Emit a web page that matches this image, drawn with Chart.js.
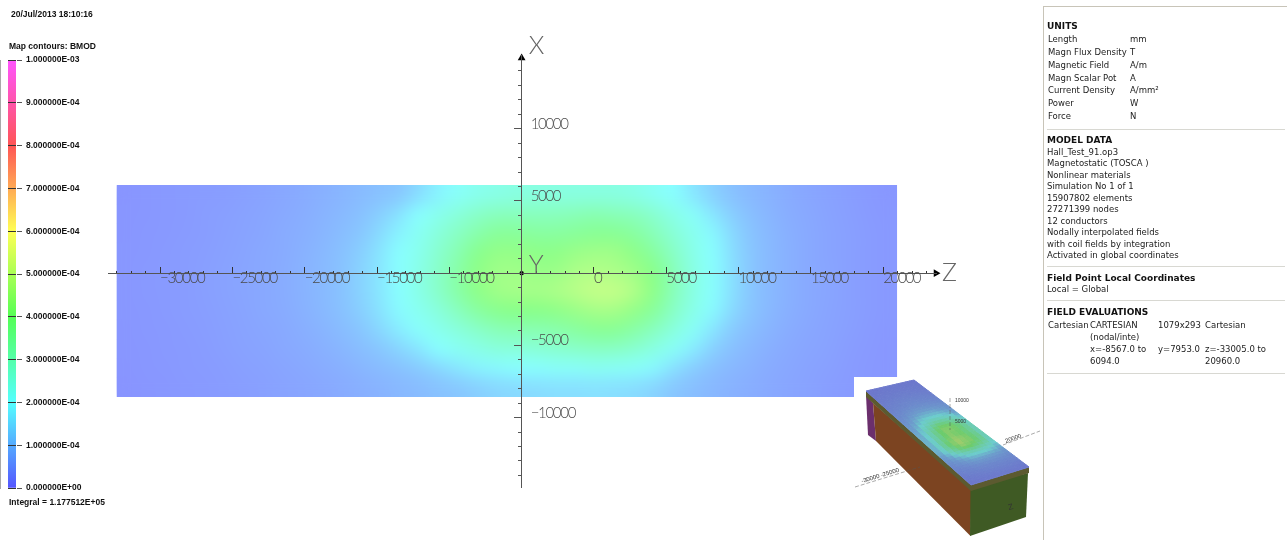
<!DOCTYPE html>
<html>
<head>
<meta charset="utf-8">
<title>BMOD map contours</title>
<script src="https://cdn.jsdelivr.net/npm/chart.js@4/dist/chart.umd.min.js"></script>
<style>
  html, body { margin: 0; padding: 0; background: #fff; overflow: hidden; }
  canvas { position: absolute; }
  #mainChart { left: 0; top: 0; }
  #barChart { left: 0; top: 50px; }
  #insetChart { left: 854px; top: 377px; background: #fff; }
  .note { position: absolute; font: bold 8.5px "Liberation Sans", sans-serif; color: #111; white-space: nowrap; }
  #panel { position: absolute; left: 1043px; top: 6px; width: 244px; height: 534px; border-left: 1px solid #c8c4b8; border-top: 1px solid #c8c4b8; box-sizing: border-box; }
  #panel div { position: absolute; font: 8.5px/12px "DejaVu Sans", sans-serif; color: #222; white-space: nowrap; }
  #panel div.b { font: bold 9px/12px "DejaVu Sans", sans-serif; color: #111; }
  #panel hr { position: absolute; left: 3px; width: 238px; margin: 0; border: 0; border-top: 1px solid #d8d8d2; }
</style>
</head>
<body>
<canvas id="mainChart" width="1287" height="540"></canvas>
<canvas id="barChart" width="115" height="450"></canvas>
<canvas id="insetChart" width="188" height="163"></canvas>

<div class="note" style="left:11px;top:9px">20/Jul/2013 18:10:16</div>
<div class="note" style="left:9px;top:41px">Map contours: BMOD</div>
<div class="note" style="left:9px;top:497px">Integral = 1.177512E+05</div>

<div id="panel"></div>

<script>
// field grid (mm)
const zCenters = [-32330, -30981, -29632, -28283, -26934, -25585, -24236, -22887, -21538, -20188,
    -18839, -17490, -16141, -14792, -13443, -12094, -10745, -9396, -8047, -6698,
    -5349, -4000, -2651, -1302, 47, 1396, 2746, 4095, 5444, 6793,
    8142, 9491, 10840, 12189, 13538, 14887, 16236, 17585, 18934, 20285];
const xCenters = [5428, 4095, 2762, 1429, 96, -1237, -2570, -3903, -5235, -6568, -7901];

// BMOD, in units of 1E-05 T, one row per xCenters entry
const bmodRow0 = [2.2,2.5,2.8,3,3.3,3.6,4.1,4.6,5.2,5.9,6.8,7.6,8.5,9.5,10.6,14.2,18,21,23,24,25,25,25,25,25,25,24,22,20,16,12.4,9.8,8.2,7,5.9,5.1,4.4,3.7,3.1,2.6];
const bmodRow1 = [2.4,2.6,2.9,3.1,3.5,3.9,4.4,4.9,5.5,6.2,7.2,8.2,9.5,11.9,15.3,20,23,26,29,31,31,31,31,32,33,32,31,28,24,21,16,12,9.3,7.6,6.3,5.3,4.6,3.8,3.2,2.7];
const bmodRow2 = [2.4,2.7,2.9,3.2,3.6,4.1,4.6,5.1,5.8,6.6,7.6,8.9,10.6,14,18,22,26,30,34,37,37,36,36,37,38,38,36,32,27,23,19,13.8,10,8,6.6,5.5,4.7,4,3.3,2.8];
const bmodRow3 = [2.5,2.7,3,3.3,3.7,4.2,4.7,5.3,5.9,6.9,8,9.5,12,15.6,20,23,28,33,39,42,42,41,41,43,44,44,41,36,30,24,20,14.6,10.4,8.2,6.7,5.6,4.7,4,3.4,2.8];
const bmodRow4 = [2.5,2.8,3,3.4,3.8,4.3,4.8,5.4,6.1,7,8.2,9.8,12.6,16,20,24,29,35,41,44,44,43,43,46,47,46,44,40,32,25,20.3,14.9,10.5,8.3,6.8,5.6,4.8,4.1,3.4,2.9];
const bmodRow5 = [2.5,2.8,3,3.4,3.8,4.3,4.8,5.4,6.1,7,8.2,9.8,12.6,16,20,24,29,35,41,44,45,45,46,48,50,50,47,41,32,25,20.3,14.9,10.5,8.3,6.8,5.6,4.8,4.1,3.4,2.9];
const bmodRow6 = [2.5,2.7,3,3.3,3.7,4.2,4.7,5.3,5.9,6.9,8,9.5,11.9,15.3,19.4,22.5,26,31,36,39,40,40,41,43,45,45,42,37,30,24,19.4,14,10.2,8.1,6.6,5.5,4.7,4,3.4,2.8];
const bmodRow7 = [2.4,2.7,2.9,3.2,3.6,4,4.5,5,5.6,6.4,7.4,8.7,10.4,13.5,17,20.5,23,26,29,32,33,33,34,36,38,38,35,31,26,21.5,16,11.5,9,7.4,6.1,5.2,4.5,3.8,3.2,2.7];
const bmodRow8 = [2.3,2.6,2.8,3.1,3.4,3.8,4.3,4.7,5.3,5.9,6.8,7.8,9.1,10.6,13.1,16,20,22,24,26,26,27,28,29,30,30,28,25,21.5,17,12.4,9.5,7.9,6.6,5.6,4.9,4.3,3.6,3.1,2.6];
const bmodRow9 = [2.2,2.5,2.7,3,3.2,3.6,4,4.4,4.9,5.4,6,6.8,7.7,8.7,9.8,11.3,13.5,16,18,19,20,20,21,21,22,21.5,21,19,15.1,11.7,9.5,8.1,7,5.9,5.2,4.6,4,3.4,2.9,2.5];
const bmodRow10 = [2.1,2.4,2.6,2.8,3.1,3.4,3.7,4.1,4.5,4.9,5.4,5.9,6.6,7.2,8,8.8,9.7,10.6,12,13.1,13.8,14.2,14.6,14.7,14.9,14.7,14.2,12.8,10.6,9.2,8,7,6.2,5.5,4.9,4.3,3.7,3.2,2.8,2.4];
const bmodRows = [bmodRow0, bmodRow1, bmodRow2, bmodRow3, bmodRow4, bmodRow5, bmodRow6, bmodRow7, bmodRow8, bmodRow9, bmodRow10];

// field extent and axis ticks (mm)
const zExtent = [-33005, 20960];
const xExtent = [-8567, 6094];
const zLabels = [-30000, -25000, -20000, -15000, -10000, 0, 5000, 10000, 15000, 20000];
const xLabels = [10000, 5000, -5000, -10000];
const zTicks = [-33000, -32000, -31000, -30000, -29000, -28000, -27000, -26000, -25000, -24000, -23000, -22000, -21000, -20000,
    -19000, -18000, -17000, -16000, -15000, -14000, -13000, -12000, -11000, -10000, -9000, -8000, -7000, -6000, -5000,
    -4000, -3000, -2000, -1000, 0, 1000, 2000, 3000, 4000, 5000, 6000, 7000, 8000, 9000, 10000,
    11000, 12000, 13000, 14000, 15000, 16000, 17000, 18000, 19000, 20000, 21000, 22000, 23000];
const xTicks = [14000, 13000, 12000, 11000, 10000, 9000, 8000, 7000, 6000, 5000, 4000, 3000, 2000, 1000, 0,
    -1000, -2000, -3000, -4000, -5000, -6000, -7000, -8000, -9000, -10000, -11000, -12000, -13000, -14000];

// colour bar
const barValues = [1e-3];
const barTicks = [0, 1e-4, 2e-4, 3e-4, 4e-4, 5e-4, 6e-4, 7e-4, 8e-4, 9e-4, 1e-3];
const barTickLabels = ['0.000000E+00', '1.000000E-04', '2.000000E-04', '3.000000E-04', '4.000000E-04', '5.000000E-04',
    '6.000000E-04', '7.000000E-04', '8.000000E-04', '9.000000E-04', '1.000000E-03'];
const barColors = [[85, 85, 255], [85, 170, 255], [85, 255, 255], [85, 255, 170], [85, 255, 85], [170, 255, 85],
    [255, 255, 85], [255, 170, 85], [255, 85, 85], [255, 85, 170], [255, 85, 255]];

// small 3D view, in view units
const topFaceX = [12, 60, 175, 117];
const topFaceY = [14, 3, 90, 108];
const rimFaceX = [12, 117, 175, 175, 117, 12];
const rimFaceY = [14, 108, 90, 96, 114, 20];
const sideFaceX = [19, 117.5, 116.5, 22];
const sideFaceY = [26, 112, 159, 64];
const endFaceX = [116.5, 174, 172, 116];
const endFaceY = [111, 96, 140, 159];
const backFaceX = [12, 19, 22, 14];
const backFaceY = [18, 26, 64, 58];
const insetAxisA = [[1, 110], [66, 90]];
const insetAxisB = [[149, 68], [186, 54]];
const insetAxisC = [[96, 21], [96, 53]];
const insetNotes = ['-30000 -25000', '20000', '10000', '5000', 'Z'];

// panel text
const panelLines = [
    ['b', 3, 13, 'UNITS'],
    ['', 4, 26, 'Length'], ['', 86, 26, 'mm'],
    ['', 4, 39, 'Magn Flux Density'], ['', 86, 39, 'T'],
    ['', 4, 52, 'Magnetic Field'], ['', 86, 52, 'A/m'],
    ['', 4, 65, 'Magn Scalar Pot'], ['', 86, 65, 'A'],
    ['', 4, 77, 'Current Density'], ['', 86, 77, 'A/mm²'],
    ['', 4, 90, 'Power'], ['', 86, 90, 'W'],
    ['', 4, 103, 'Force'], ['', 86, 103, 'N'],
    ['b', 3, 127, 'MODEL DATA'],
    ['', 3, 139, 'Hall_Test_91.op3'],
    ['', 3, 150, 'Magnetostatic (TOSCA )'],
    ['', 3, 162, 'Nonlinear materials'],
    ['', 3, 173, 'Simulation No 1 of 1'],
    ['', 3, 185, '15907802 elements'],
    ['', 3, 196, '27271399 nodes'],
    ['', 3, 208, '12 conductors'],
    ['', 3, 219, 'Nodally interpolated fields'],
    ['', 3, 231, 'with coil fields by integration'],
    ['', 3, 242, 'Activated in global coordinates'],
    ['b', 3, 265, 'Field Point Local Coordinates'],
    ['', 3, 276, 'Local = Global'],
    ['b', 3, 299, 'FIELD EVALUATIONS'],
    ['', 4, 312, 'Cartesian'], ['', 46, 312, 'CARTESIAN'], ['', 114, 312, '1079x293'], ['', 161, 312, 'Cartesian'],
    ['', 46, 324, '(nodal/inte)'],
    ['', 46, 336, 'x=-8567.0 to'], ['', 114, 336, 'y=7953.0'], ['', 161, 336, 'z=-33005.0 to'],
    ['', 46, 348, '6094.0'], ['', 161, 348, '20960.0']
];
const panelRules = [122, 259, 293, 366];

const LABEL_COLOR = '#4a4a4a';
const labelFont = '300 15px Lato, sans-serif';

// lifted version of the bar colours, as shown on the map
function fieldColor(value, scale = 1) {
    const pos = Math.min(Math.max(value / 10, 0), 10);
    const i = Math.min(Math.floor(pos), 9);
    const t = pos - i;
    const rgb = barColors[i].map((c, k) => {
        const mixed = c + (barColors[i + 1][k] - c) * t;
        return Math.round((136 + (mixed - 85) * 119 / 170) * scale);
    });
    return `rgb(${rgb[0]},${rgb[1]},${rgb[2]})`;
}

// map cells: one square point per value
const heatPoints = [];
const heatColors = [];
bmodRows.forEach((row, r) => {
    row.forEach((v, c) => {
        heatPoints.push({ x: zCenters[c], y: xCenters[r] });
        heatColors.push(fieldColor(v));
    });
});

// library draws the cells, then this smooths them inside the map rectangle
const smoothField = {
    id: 'smoothField',
    afterDatasetDraw(chart, args) {
        if (args.index !== 1) return;
        const { x, y } = chart.scales;
        const left = x.getPixelForValue(zExtent[0]);
        const right = x.getPixelForValue(zExtent[1]);
        const top = y.getPixelForValue(xExtent[1]);
        const bottom = y.getPixelForValue(xExtent[0]);
        const small = document.createElement('canvas');
        small.width = zCenters.length;
        small.height = xCenters.length;
        const sctx = small.getContext('2d');
        sctx.imageSmoothingEnabled = false;
        sctx.drawImage(chart.canvas, left, top, right - left, bottom - top, 0, 0, small.width, small.height);
        const ctx = chart.ctx;
        ctx.save();
        ctx.fillStyle = '#fff';
        ctx.fillRect(left - 2, top - 2, right - left + 4, 2);
        ctx.fillRect(left - 2, bottom, right - left + 4, 2);
        ctx.fillRect(left - 2, top - 2, 2, bottom - top + 4);
        ctx.fillRect(right, top - 2, 2, bottom - top + 4);
        ctx.imageSmoothingEnabled = true;
        ctx.imageSmoothingQuality = 'high';
        ctx.drawImage(small, left, top, right - left, bottom - top);
        ctx.beginPath();
        ctx.rect(left, top, right - left, bottom - top);
        ctx.clip();
        ctx.filter = 'blur(6px)';
        ctx.drawImage(small, left, top, right - left, bottom - top);
        ctx.restore();
    }
};

const axisText = {
    id: 'axisText',
    afterDraw(chart) {
        const { x, y } = chart.scales;
        const ctx = chart.ctx;
        const zeroY = y.getPixelForValue(0);
        const axisX = x.getPixelForValue(-5000);
        ctx.save();
        ctx.fillStyle = LABEL_COLOR;
        ctx.font = labelFont;
        ctx.letterSpacing = '-1.3px';
        ctx.textAlign = 'left';
        ctx.textBaseline = 'alphabetic';
        zLabels.forEach(v => {
            ctx.fillText(String(v).replace('-', '\u2212'), x.getPixelForValue(v), zeroY + 10);
        });
        xLabels.forEach(v => {
            ctx.fillText(String(v).replace('-', '\u2212'), axisX + 9, y.getPixelForValue(v));
        });
        ctx.letterSpacing = '0px';
        ctx.fillStyle = '#666';
        ctx.font = '300 25px Lato, sans-serif';
        ctx.fillText('X', axisX + 7, 54);
        ctx.fillText('Y', axisX + 7, 273);
        ctx.fillText('Z', x.right + 6, zeroY + 8);
        ctx.restore();
    }
};

new Chart(document.getElementById('mainChart'), {
    type: 'scatter',
    data: {
        datasets: [
            {
                // arrow heads and origin
                data: [{ x: 23650, y: 0 }, { x: -5000, y: 14890 }, { x: -5000, y: 0 }],
                pointStyle: ['triangle', 'triangle', 'circle'],
                rotation: [90, 0, 0],
                pointRadius: [4.5, 4.5, 2.2],
                pointBackgroundColor: '#000',
                pointBorderWidth: 0,
                clip: false
            },
            {
                data: heatPoints,
                pointStyle: 'rect',
                pointRadius: 13.9,
                pointBackgroundColor: heatColors,
                pointBorderWidth: 0,
                clip: false
            }
        ]
    },
    options: {
        responsive: false,
        animation: false,
        events: [],
        layout: { autoPadding: false, padding: { left: 108, top: 55, right: 351, bottom: 53 } },
        plugins: { legend: { display: false }, tooltip: { enabled: false } },
        scales: {
            x: {
                type: 'linear',
                min: -33600,
                max: 23650,
                position: { y: 0 },
                afterBuildTicks: scale => { scale.ticks = zTicks.map(value => ({ value })); },
                ticks: { display: false, autoSkip: false, z: 1 },
                border: { color: '#555', width: 1, z: 1 },
                grid: {
                    z: 1,
                    drawOnChartArea: false,
                    tickLength: -7,
                    tickColor: '#333',
                    tickBorderDash: ctx => (ctx.tick && ctx.tick.value % 5000 ? [3, 20] : [])
                }
            },
            y: {
                type: 'linear',
                min: -14800,
                max: 15100,
                position: { x: -5000 },
                afterBuildTicks: scale => { scale.ticks = xTicks.map(value => ({ value })); },
                ticks: { display: false, autoSkip: false, z: 1 },
                border: { color: '#555', width: 1, z: 1 },
                grid: {
                    z: 1,
                    drawOnChartArea: false,
                    tickLength: 7,
                    tickColor: '#555',
                    tickBorderDash: ctx => (ctx.tick && ctx.tick.value % 5000 ? [3, 20] : [])
                }
            }
        }
    },
    plugins: [smoothField, axisText]
});

new Chart(document.getElementById('barChart'), {
    type: 'bar',
    data: {
        labels: ['BMOD'],
        datasets: [{
            data: barValues,
            barPercentage: 1,
            categoryPercentage: 1,
            borderWidth: 0,
            backgroundColor: ctx => {
                const area = ctx.chart.chartArea;
                if (!area) return '#55ff55';
                const grad = ctx.chart.ctx.createLinearGradient(0, area.bottom, 0, area.top);
                barColors.forEach((c, i) => grad.addColorStop(i / 10, `rgb(${c[0]},${c[1]},${c[2]})`));
                return grad;
            }
        }]
    },
    options: {
        responsive: false,
        animation: false,
        events: [],
        layout: { autoPadding: false, padding: { left: 8, top: 10, right: 0, bottom: 12 } },
        plugins: { legend: { display: false }, tooltip: { enabled: false } },
        scales: {
            x: { display: false },
            y: {
                position: 'right',
                min: 0,
                max: 1e-3,
                afterFit: scale => { scale.width = 99; },
                afterBuildTicks: scale => { scale.ticks = barTicks.map(value => ({ value })); },
                border: { color: '#555' },
                ticks: {
                    autoSkip: false,
                    padding: 4,
                    color: '#111',
                    font: { family: '"Liberation Sans", sans-serif', size: 8.5, weight: 'bold' },
                    callback: (value, i) => barTickLabels[i]
                },
                grid: { z: 1, color: '#333', tickColor: '#555', tickLength: 6 }
            }
        }
    }
});

const insetFaces = {
    id: 'insetFaces',
    beforeDatasetsDraw(chart) {
        const { x, y } = chart.scales;
        const ctx = chart.ctx;
        const poly = (xs, ys, color) => {
            ctx.fillStyle = color;
            ctx.beginPath();
            xs.forEach((v, i) => ctx.lineTo(x.getPixelForValue(v), y.getPixelForValue(ys[i])));
            ctx.closePath();
            ctx.fill();
        };
        poly(backFaceX, backFaceY, '#6b2f6d');
        poly(sideFaceX, sideFaceY, '#7c4421');
        poly(endFaceX, endFaceY, '#3f5a24');
        poly(rimFaceX, rimFaceY, '#5c5a30');

        // same field table, laid on the top face
        const corner = (u, v, src) => (src[0] + (src[1] - src[0]) * v) * (1 - u) + (src[3] + (src[2] - src[3]) * v) * u;
        const rows = bmodRows.length;
        const cols = zCenters.length;
        ctx.save();
        ctx.filter = 'blur(0.7px)';
        bmodRows.forEach((row, r) => {
            row.forEach((val, c) => {
                const us = [c / cols, c / cols, (c + 1) / cols, (c + 1) / cols];
                const vs = [r / rows, (r + 1) / rows, (r + 1) / rows, r / rows];
                const color = fieldColor(val, 0.8);
                ctx.fillStyle = color;
                ctx.strokeStyle = color;
                ctx.lineWidth = 1;
                ctx.beginPath();
                us.forEach((u, i) => {
                    ctx.lineTo(x.getPixelForValue(corner(u, 1 - vs[i], topFaceX)),
                        y.getPixelForValue(corner(u, 1 - vs[i], topFaceY)));
                });
                ctx.closePath();
                ctx.fill();
                ctx.stroke();
            });
        });
        ctx.restore();
    },
    afterDatasetsDraw(chart) {
        const { x, y } = chart.scales;
        const ctx = chart.ctx;
        const note = (text, vx, vy, deg, size) => {
            ctx.save();
            ctx.translate(x.getPixelForValue(vx), y.getPixelForValue(vy));
            ctx.rotate(deg * Math.PI / 180);
            ctx.font = `${size}px "Liberation Sans", sans-serif`;
            ctx.fillStyle = '#333';
            ctx.fillText(text, 0, 0);
            ctx.restore();
        };
        note(insetNotes[0], 8, 106, -17, 6);
        note(insetNotes[1], 152, 66, -20, 6);
        note(insetNotes[2], 101, 25, 0, 5);
        note(insetNotes[3], 101, 46, 0, 5);
        note(insetNotes[4], 155, 133, -15, 8);
    }
};

const insetLine = pts => ({
    data: pts.map(p => ({ x: p[0], y: p[1] })),
    showLine: true,
    borderColor: '#555',
    borderWidth: 0.5,
    borderDash: [4, 2],
    pointRadius: 0
});

new Chart(document.getElementById('insetChart'), {
    type: 'scatter',
    data: { datasets: [insetLine(insetAxisA), insetLine(insetAxisB), insetLine(insetAxisC)] },
    options: {
        responsive: false,
        animation: false,
        events: [],
        layout: { autoPadding: false, padding: 0 },
        plugins: { legend: { display: false }, tooltip: { enabled: false } },
        scales: {
            x: { display: false, min: 0, max: 188 },
            y: { display: false, min: 0, max: 163, reverse: true }
        }
    },
    plugins: [insetFaces]
});

// side panel
const panel = document.getElementById('panel');
panelLines.forEach(([cls, left, top, text]) => {
    const el = document.createElement('div');
    el.className = cls;
    el.style.left = left + 'px';
    el.style.top = top + 'px';
    el.textContent = text;
    panel.appendChild(el);
});
panelRules.forEach(top => {
    const el = document.createElement('hr');
    el.style.top = top + 'px';
    panel.appendChild(el);
});
</script>
</body>
</html>
